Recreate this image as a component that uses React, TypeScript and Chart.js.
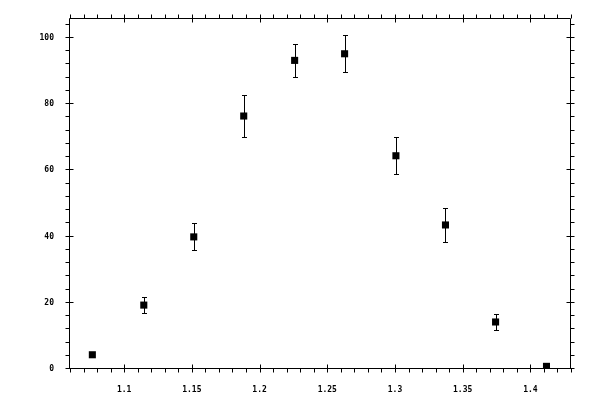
import React, { useEffect, useRef } from "react";
import { Chart, registerables, type ChartConfiguration, type Plugin } from "chart.js";

Chart.register(...registerables);

// ---- data ----
const X_VALUES = [1.0765, 1.1145, 1.1514, 1.1883, 1.2259, 1.2628, 1.3007, 1.3373, 1.3743, 1.4119];
const Y_VALUES = [4.3, 19.3, 39.9, 76.4, 93.2, 95.2, 64.4, 43.5, 14.2, 0.8];
const Y_ERRORS = [0.5, 2.4, 4.1, 6.2, 5.1, 5.6, 5.6, 5.0, 2.3, 0.4];

const X_TICKS = [1.1, 1.15, 1.2, 1.25, 1.3, 1.35, 1.4];
const X_TICK_LABELS = ["1.1", "1.15", "1.2", "1.25", "1.3", "1.35", "1.4"];
const Y_TICKS = [0, 20, 40, 60, 80, 100];
const Y_TICK_LABELS = ["0", "20", "40", "60", "80", "100"];

const X_MIN = 1.06;
const X_MAX = 1.43;
const Y_MIN = 0;
const Y_MAX = 105.7;
const X_MINOR_STEP = 0.01;
const Y_MINOR_STEP = 4;

const FONT = { family: "'DejaVu Sans Mono', monospace", size: 8, weight: "bold" as const };

const snap = (v: number) => Math.round(v) + 0.5;

// error bars, drawn under the markers
const errorBars: Plugin = {
  id: "errorBars",
  beforeDatasetsDraw(chart) {
    const { ctx, scales } = chart;
    const x = scales.x, y = scales.y;
    ctx.save();
    ctx.strokeStyle = "#000";
    ctx.lineWidth = 1;
    X_VALUES.forEach((xv, i) => {
      const px = snap(x.getPixelForValue(xv));
      const top = snap(y.getPixelForValue(Y_VALUES[i] + Y_ERRORS[i]));
      const bot = snap(y.getPixelForValue(Y_VALUES[i] - Y_ERRORS[i]));
      ctx.beginPath();
      ctx.moveTo(px, top);
      ctx.lineTo(px, bot);
      ctx.moveTo(px - 2.5, top);
      ctx.lineTo(px + 2.5, top);
      ctx.moveTo(px - 2.5, bot);
      ctx.lineTo(px + 2.5, bot);
      ctx.stroke();
    });
    ctx.restore();
  },
};

// box frame with major (crossing) and minor (outward) ticks on all four sides
const frameTicks: Plugin = {
  id: "frameTicks",
  afterDraw(chart) {
    const { ctx, chartArea, scales } = chart;
    const x = scales.x, y = scales.y;
    const L = snap(chartArea.left) - 1, R = snap(chartArea.right) - 1;
    const T = snap(chartArea.top) - 1, B = snap(chartArea.bottom) - 1;
    const out = 4, inn = 4;
    ctx.save();
    ctx.strokeStyle = "#000";
    ctx.lineWidth = 1;
    ctx.beginPath();
    ctx.rect(L, T, R - L, B - T);

    const isMajor = (v: number, list: number[]) => list.some((m) => Math.abs(m - v) < 1e-6);

    for (let k = Math.round(X_MIN / X_MINOR_STEP); k <= Math.round(X_MAX / X_MINOR_STEP); k++) {
      const v = k * X_MINOR_STEP;
      const px = snap(x.getPixelForValue(v));
      const major = isMajor(v, X_TICKS);
      ctx.moveTo(px, B + out);
      ctx.lineTo(px, major ? B - inn : B);
      ctx.moveTo(px, T - out);
      ctx.lineTo(px, major ? T + inn : T);
    }
    for (let k = Math.round(Y_MIN / Y_MINOR_STEP); k * Y_MINOR_STEP <= Y_MAX; k++) {
      const v = k * Y_MINOR_STEP;
      const py = snap(y.getPixelForValue(v)) - 1;
      const major = isMajor(v, Y_TICKS);
      ctx.moveTo(L - out, py);
      ctx.lineTo(major ? L + inn : L, py);
      ctx.moveTo(R + out, py);
      ctx.lineTo(major ? R - inn : R, py);
    }
    ctx.stroke();
    ctx.restore();
  },
};

const App: React.FC = () => {
  const canvasRef = useRef<HTMLCanvasElement | null>(null);

  useEffect(() => {
    if (!canvasRef.current) return;
    const config: ChartConfiguration<"scatter"> = {
      type: "scatter",
      data: {
        datasets: [
          {
            data: X_VALUES.map((xv, i) => ({ x: xv, y: Y_VALUES[i] })),
            pointStyle: "rect",
            pointRadius: 5,
            pointBorderWidth: 0,
            backgroundColor: "#000",
            borderColor: "#000",
          },
        ],
      },
      options: {
        responsive: true,
        maintainAspectRatio: false,
        animation: false,
        layout: { padding: { left: 0, top: 19, right: 29, bottom: 0 } },
        plugins: { legend: { display: false }, tooltip: { enabled: false } },
        scales: {
          x: {
            type: "linear",
            min: X_MIN,
            max: X_MAX,
            grid: { display: false },
            border: { display: false },
            afterBuildTicks: (scale) => {
              scale.ticks = X_TICKS.map((v) => ({ value: v }));
            },
            afterFit: (scale) => {
              scale.height = 31;
            },
            ticks: {
              autoSkip: false,
              maxRotation: 0,
              padding: 8,
              color: "#000",
              font: FONT,
              callback: (_v, i) => X_TICK_LABELS[i],
            },
          },
          y: {
            type: "linear",
            min: Y_MIN,
            max: Y_MAX,
            grid: { display: false },
            border: { display: false },
            afterBuildTicks: (scale) => {
              scale.ticks = Y_TICKS.map((v) => ({ value: v }));
            },
            afterFit: (scale) => {
              scale.width = 70;
            },
            ticks: {
              autoSkip: false,
              padding: 8,
              color: "#000",
              font: FONT,
              callback: (_v, i) => Y_TICK_LABELS[i],
            },
          },
        },
      },
      plugins: [errorBars, frameTicks],
    };
    const chart = new Chart(canvasRef.current, config);
    return () => chart.destroy();
  }, []);

  return (
    <div style={styles.wrap}>
      <canvas ref={canvasRef} />
    </div>
  );
};

const styles = {
  wrap: { position: "absolute", left: 0, top: 0, width: "600px", height: "400px", background: "#fff" } as React.CSSProperties,
};

export default App;
